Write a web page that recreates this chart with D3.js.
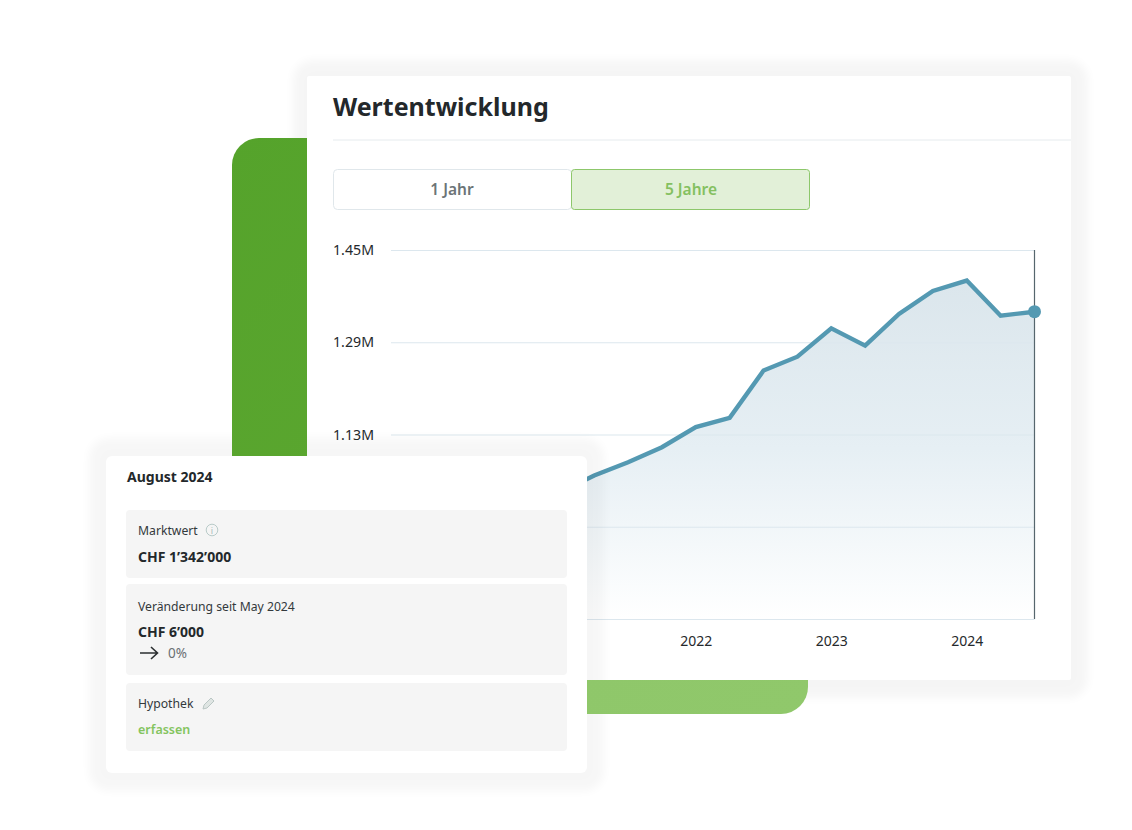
<!DOCTYPE html>
<html>
<head>
<meta charset="utf-8">
<script src="https://cdn.jsdelivr.net/npm/d3@7"></script>
<style>
  html, body { margin: 0; background: #fff; }
  svg { display: block; }
  text { font-family: "Noto Sans", sans-serif; }
</style>
</head>
<body>
<div id="chart"></div>
<script>
var periods = ["2019-10", "2020-01", "2020-04", "2020-07", "2020-10", "2021-01", "2021-04", "2021-07", "2021-10", "2022-01",
  "2022-04", "2022-07", "2022-10", "2023-01", "2023-04", "2023-07", "2023-10", "2024-01", "2024-04", "2024-07"];
// the first six sit behind the card, rough guess
var values = [0.93, 0.94, 0.96, 0.98, 1.0, 1.03, 1.059, 1.082, 1.108, 1.143,
  1.159, 1.241, 1.265, 1.314, 1.284, 1.339, 1.379, 1.397, 1.336, 1.343];
var yTicks = [0.81, 0.97, 1.13, 1.29, 1.45];
var yearTicks = ["2020-01", "2021-01", "2022-01", "2023-01", "2024-01"];
var rangeLabels = ["1 Jahr", "5 Jahre"];

var svg = d3.select("#chart").append("svg").attr("width", 1132).attr("height", 830);
var defs = svg.append("defs");

// the shadows are flat bands around the cards, so a blurred rect does it
defs.append("filter").attr("id", "halo")
  .attr("x", "-10%").attr("y", "-10%").attr("width", "120%").attr("height", "120%")
  .append("feGaussianBlur").attr("stdDeviation", 5);

var greenGrad = defs.append("linearGradient").attr("id", "greenGrad")
  .attr("gradientUnits", "userSpaceOnUse")
  .attr("x1", 232).attr("y1", 138).attr("x2", 808).attr("y2", 714);
greenGrad.append("stop").attr("offset", 0).attr("stop-color", "#55a32b");
greenGrad.append("stop").attr("offset", 0.7).attr("stop-color", "#5ea832");
greenGrad.append("stop").attr("offset", 0.77).attr("stop-color", "#8fc76a");
greenGrad.append("stop").attr("offset", 1).attr("stop-color", "#90c86b");

var greenClip = defs.append("clipPath").attr("id", "greenClip");
greenClip.append("rect").attr("x", 232).attr("y", 138).attr("width", 75).attr("height", 318);
greenClip.append("rect").attr("x", 587).attr("y", 680).attr("width", 221).attr("height", 34);

var areaGrad = defs.append("linearGradient").attr("id", "areaGrad")
  .attr("gradientUnits", "userSpaceOnUse")
  .attr("x1", 0).attr("y1", 280).attr("x2", 0).attr("y2", 619);
areaGrad.append("stop").attr("offset", 0).attr("stop-color", "#dbe6ec");
areaGrad.append("stop").attr("offset", 0.5).attr("stop-color", "#e6eff4");
areaGrad.append("stop").attr("offset", 1).attr("stop-color", "#ffffff");

// main card
svg.append("rect").attr("x", 293).attr("y", 60).attr("width", 795).attr("height", 638).attr("rx", 20)
  .attr("fill", "#000").attr("opacity", 0.036).attr("filter", "url(#halo)");

var card = svg.append("g");
card.append("rect").attr("x", 307).attr("y", 76).attr("width", 764).attr("height", 604)
  .attr("rx", 2).attr("fill", "#fff");
card.append("text").attr("x", 333).attr("y", 116)
  .attr("font-size", 25).attr("font-weight", 700).attr("fill", "#23282b").text("Wertentwicklung");
card.append("line").attr("x1", 333).attr("x2", 1071).attr("y1", 140).attr("y2", 140)
  .attr("stroke", "#e6ebee");

// range buttons
card.append("rect").attr("x", 333.5).attr("y", 169.5).attr("width", 238).attr("height", 40).attr("rx", 4)
  .attr("fill", "#fff").attr("stroke", "#e0e7eb");
card.append("rect").attr("x", 571.5).attr("y", 169.5).attr("width", 238).attr("height", 40).attr("rx", 3)
  .attr("fill", "#e2f0d8").attr("stroke", "#8dc76b");
card.append("text").attr("x", 452).attr("y", 195).attr("text-anchor", "middle")
  .attr("font-size", 15.5).attr("font-weight", 600).attr("fill", "#6c7477").text(rangeLabels[0]);
card.append("text").attr("x", 691).attr("y", 195).attr("text-anchor", "middle")
  .attr("font-size", 15.5).attr("font-weight", 600).attr("fill", "#84c060").text(rangeLabels[1]);

// chart
var x = d3.scalePoint().domain(periods).range([391, 1034.5]);
var y = d3.scaleLinear().domain([0.81, 1.45]).range([619, 250]);

var area = d3.area()
  .x((d, i) => x(periods[i]))
  .y0(y(0.81))
  .y1(d => y(d));
var line = d3.line()
  .x((d, i) => x(periods[i]))
  .y(d => y(d));

card.append("path").attr("d", area(values)).attr("fill", "url(#areaGrad)");

var yAxis = card.append("g").attr("transform", "translate(391,0)")
  .call(d3.axisLeft(y).tickValues(yTicks).tickSize(-643.5).tickFormat(d => d3.format(".2f")(d) + "M"));
yAxis.select(".domain").remove();
yAxis.selectAll("line").attr("stroke", "#dce7ee").attr("stroke-width", 1.2);
yAxis.selectAll("text").attr("x", -58).attr("text-anchor", "start")
  .attr("font-size", 14.2).attr("fill", "#25292c")
  .style("font-family", '"Noto Sans", sans-serif');

var xAxis = card.append("g").attr("transform", "translate(0,619)")
  .call(d3.axisBottom(x).tickValues(yearTicks).tickSize(0).tickPadding(17).tickFormat(d => d.slice(0, 4)));
xAxis.select(".domain").remove();
xAxis.selectAll("text").attr("font-size", 14).attr("fill", "#25292c")
  .style("font-family", '"Noto Sans", sans-serif');

card.append("line").attr("x1", x("2024-07")).attr("x2", x("2024-07")).attr("y1", y(1.45)).attr("y2", y(0.81))
  .attr("stroke", "#56666d").attr("stroke-width", 1.2);
card.append("path").attr("d", line(values)).attr("fill", "none")
  .attr("stroke", "#5499b2").attr("stroke-width", 4.4).attr("stroke-linejoin", "miter");
card.append("circle").attr("cx", x("2024-07")).attr("cy", y(values[values.length - 1])).attr("r", 6.5)
  .attr("fill", "#5499b2");

// detail card halo first, the green block does not take its shade
svg.append("rect").attr("x", 89).attr("y", 438).attr("width", 515).attr("height", 353).attr("rx", 20)
  .attr("fill", "#000").attr("opacity", 0.032).attr("filter", "url(#halo)");

// green block, round corners top left and bottom right only
svg.append("path")
  .attr("d", "M232 165 A27 27 0 0 1 259 138 H808 V687 A27 27 0 0 1 781 714 H232 Z")
  .attr("fill", "url(#greenGrad)")
  .attr("clip-path", "url(#greenClip)");

// detail card
var info = svg.append("g");
info.append("rect").attr("x", 106).attr("y", 456).attr("width", 481).attr("height", 317).attr("rx", 6)
  .attr("fill", "#fff");
info.append("text").attr("x", 127).attr("y", 482)
  .attr("font-size", 14).attr("font-weight", 700).attr("fill", "#23282b").text("August 2024");

info.append("rect").attr("x", 126).attr("y", 510).attr("width", 441).attr("height", 68).attr("rx", 4).attr("fill", "#f5f5f5");
info.append("rect").attr("x", 126).attr("y", 584).attr("width", 441).attr("height", 91).attr("rx", 4).attr("fill", "#f5f5f5");
info.append("rect").attr("x", 126).attr("y", 683).attr("width", 441).attr("height", 68).attr("rx", 4).attr("fill", "#f5f5f5");

function small(tx, ty, label) {
  return info.append("text").attr("x", tx).attr("y", ty)
    .attr("font-size", 12.2).attr("fill", "#33393c").text(label);
}
function strong(tx, ty, label) {
  return info.append("text").attr("x", tx).attr("y", ty)
    .attr("font-size", 14).attr("font-weight", 700).attr("fill", "#23282b").text(label);
}

small(138, 535, "Marktwert");
info.append("circle").attr("cx", 212).attr("cy", 530).attr("r", 5.8)
  .attr("fill", "none").attr("stroke", "#b9cbc9").attr("stroke-width", 1);
info.append("text").attr("x", 212).attr("y", 533.5).attr("text-anchor", "middle")
  .attr("font-size", 9).attr("fill", "#a9bcba").text("i");
strong(138, 562, "CHF 1’342’000");

small(138, 611, "Veränderung seit May 2024");
strong(138, 637, "CHF 6’000");
info.append("path").attr("d", "M140 653 H157 M151 647 L157.5 653 L151 659")
  .attr("fill", "none").attr("stroke", "#2b2f31").attr("stroke-width", 1.6);
info.append("text").attr("x", 168).attr("y", 658)
  .attr("font-size", 13.5).attr("fill", "#6a6f72").text("0%");

small(138, 708, "Hypothek");
info.append("path").attr("d", "M203 709 L204 705 L211 698 L214 701 L207 708 Z")
  .attr("fill", "#dfe5e3").attr("stroke", "#b4c2bf").attr("stroke-width", 0.9);
info.append("text").attr("x", 138).attr("y", 734)
  .attr("font-size", 12.5).attr("font-weight", 600).attr("fill", "#84c45f").text("erfassen");
</script>
</body>
</html>
